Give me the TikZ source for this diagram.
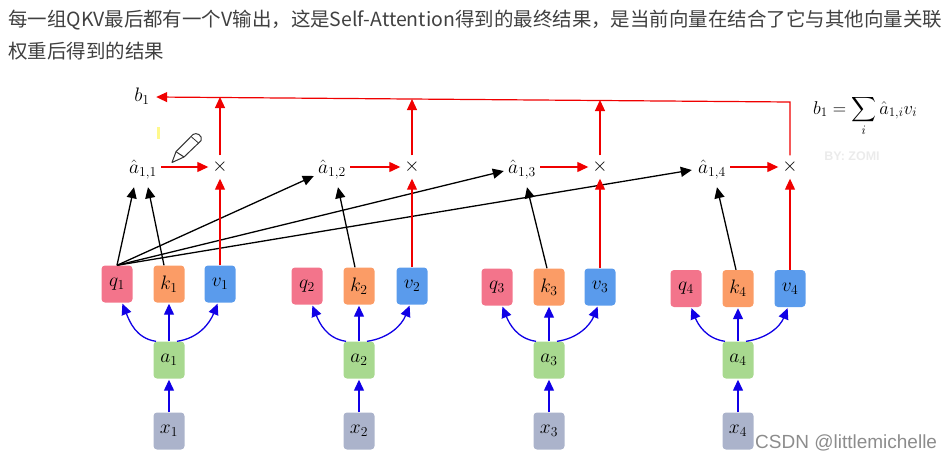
\documentclass[tikz,border=0pt]{standalone}
\usepackage{fix-cm}
\usepackage{exscale}
\usepackage{fontspec}
\newfontfamily\cjk{Noto Sans CJK SC}
\newfontfamily\wmfont{Liberation Sans}
\usetikzlibrary{arrows.meta}
\definecolor{qcol}{HTML}{F3748B}
\definecolor{kcol}{HTML}{FB9C66}
\definecolor{vcol}{HTML}{5A9BEC}
\definecolor{acol}{HTML}{A8D98F}
\definecolor{xcol}{HTML}{ABB3CB}
\definecolor{redcol}{HTML}{F00000}
\definecolor{bluecol}{HTML}{1000E6}
\begin{document}
\begin{tikzpicture}[
x=1pt, y=-1pt,
every node/.style={font=\fontsize{19.5}{22}\selectfont},
block/.style={rounded corners=3.5pt, minimum width=31pt, minimum height=37pt, inner sep=0pt},
ahat/.style={minimum width=36pt, minimum height=34pt, inner sep=0pt},
mult/.style={minimum size=23pt, inner sep=0pt},
redarrow/.style={-{Triangle[length=11pt,width=10pt]}, redcol, line width=1.2pt},
bluearrow/.style={-{Triangle[length=11pt,width=10pt]}, bluecol, line width=1.3pt, shorten >=1pt},
blackarrow/.style={-{Triangle[length=11pt,width=10pt]}, black, line width=1.3pt}
]

    \useasboundingbox (0,0) rectangle (952,458);

    % Heading
    \node[anchor=north west, inner sep=0pt, align=left, text=black!75, font=\cjk\fontsize{19.47}{29}\selectfont] (heading) at (8,10)
    {每一组QKV最后都有一个V输出，这是Self-Attention得到的最终结果，是当前向量在结合了它与其他向量关联\\[3pt]权重后得到的结果};

    % Boxes of each column
    \foreach \i/\qx/\kx/\vx/\y/\ax in {1/117/169/220/284/169, 2/307/359/412/286/359, 3/497/549/600/287/549, 4/686/738/790/288.5/738} {
        \node[block, fill=qcol] (q\i) at (\qx,\y) {$q_{\i}$};
        \node[block, fill=kcol] (k\i) at (\kx,\y) {$k_{\i}$};
        \node[block, fill=vcol] (v\i) at (\vx,\y) {$v_{\i}$};
        \node[block, fill=acol] (a\i) at (\ax,360) {$a_{\i}$};
        \node[block, fill=xcol] (x\i) at (\ax,431) {$x_{\i}$};
        \node[mult] (m\i) at (\vx,167) {$\times$};
    }

    % Weights
    \node[ahat] (ah1) at (143,170) {$\hat{a}_{1,1}$};
    \node[ahat] (ah2) at (332,170) {$\hat{a}_{1,2}$};
    \node[ahat] (ah3) at (522,170) {$\hat{a}_{1,3}$};
    \node[ahat] (ah4) at (712,170) {$\hat{a}_{1,4}$};

    % Blue arrows
    \foreach \i in {1,2,3,4} {
        \draw[bluearrow] (x\i.north) -- (a\i.south);
        \draw[bluearrow] (a\i.north) -- (k\i.south);
        \draw[bluearrow] ([xshift=-13pt]a\i.north) to[out=172,in=-68] ([xshift=5pt]q\i.south);
        \draw[bluearrow] ([xshift=8pt]a\i.north) to[out=8,in=-112] ([xshift=-2pt]v\i.south);
    }

    % Black arrows
    \draw[blackarrow] (q1.north) -- ([xshift=-9pt]ah1.south);
    \draw[blackarrow] (q1.north) -- ([yshift=-6pt]ah2.west);
    \draw[blackarrow] (q1.north) -- ([yshift=-1pt]ah3.west);
    \draw[blackarrow] (q1.north) -- ([xshift=-2pt]ah4.west);
    \draw[blackarrow] ([xshift=-5pt]k1.north) -- ([xshift=5pt]ah1.south);
    \draw[blackarrow] ([xshift=-4pt]k2.north) -- ([xshift=6pt]ah2.south);
    \draw[blackarrow] ([xshift=-2pt]k3.north) -- ([xshift=5pt]ah3.south);
    \draw[blackarrow] ([xshift=-2pt]k4.north) -- ([xshift=5pt]ah4.south);

    % Red arrows
    \foreach \i in {1,2,3,4} {
        \draw[redarrow] ([yshift=3pt]ah\i.east) -- (m\i.west);
        \draw[redarrow] (v\i.north) -- (m\i.south);
    }

    % Sum line
    \node[minimum width=28pt, inner sep=0pt] (b1) at (142,96) {$b_1$};
    \coordinate (corner) at (790,102);
    \coordinate (t1) at (220,97);
    \coordinate (t2) at (412,99);
    \coordinate (t3) at (600,100);
    \draw[redarrow] (m4.north) -- (corner) -- ([yshift=-1pt]b1.east);
    \draw[redarrow] (m1.north) -- (t1);
    \draw[redarrow] (m2.north) -- (t2);
    \draw[redarrow] (m3.north) -- (t3);

    % Formula
    \node[anchor=west, inner sep=0pt, font=\fontsize{18.5}{22}\selectfont] (formula) at (813,116) {$b_1 = \displaystyle\sum_i \hat{a}_{1,i} v_i$};

    % Pencil and marks
    \fill[yellow!45] (157,127) rectangle (160,139);
    \draw[black!80, line width=1pt, line join=round] (172,162.5) -- (176,151.7) -- (193,134.5)
        .. controls (196,132) and (203,135) .. (201,140.7) -- (184,157) -- cycle;
    \draw[black!80, line width=1pt] (176,151.7) -- (184,157);
    \draw[black!80, line width=0.8pt] (191,136.5) -- (198.5,143);

    % Watermarks
    \node[inner sep=0pt, text=black!8, font=\wmfont\bfseries\fontsize{12.5}{14}\selectfont] (byline) at (852,156) {BY: ZOMI};
    \node[anchor=base west, inner sep=0pt, text=black!45, font=\wmfont\fontsize{19}{20}\selectfont] (csdn) at (755,448) {CSDN @littlemichelle};

\end{tikzpicture}
\end{document}
